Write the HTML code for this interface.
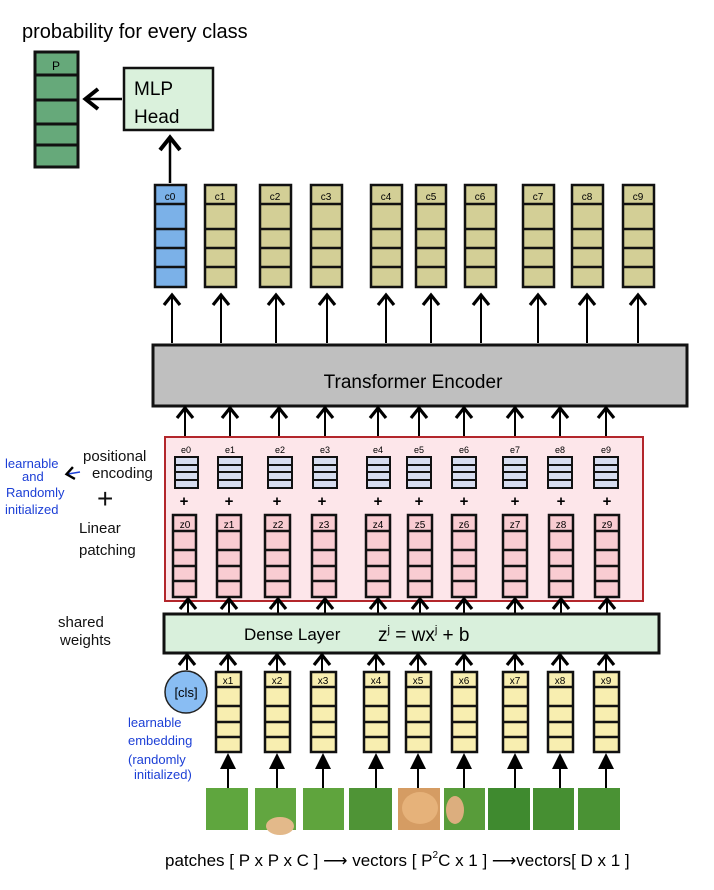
<!DOCTYPE html>
<html><head><meta charset="utf-8"><style>
body{margin:0;background:#fff;}
svg{display:block;font-family:"Liberation Sans",sans-serif;}
</style></head><body>
<svg width="714" height="890" viewBox="0 0 714 890" xmlns="http://www.w3.org/2000/svg">
<defs>
<marker id="op" markerWidth="10" markerHeight="10" refX="5" refY="5" orient="auto"><path d="M1,1 L6,5 L1,9" fill="none" stroke="#000" stroke-width="1.6"/></marker>
<marker id="fl" markerWidth="8" markerHeight="8" refX="6" refY="4" orient="auto"><path d="M0,0 L8,4 L0,8Z" fill="#000"/></marker>
</defs>
<text x="22" y="38" font-size="20">probability for every class</text>
<!-- green prob -->
<g stroke="#111" stroke-width="3" fill="#66a97a">
<rect x="35" y="52" width="43" height="115"/>
<line x1="35" y1="75" x2="78" y2="75"/><line x1="35" y1="100" x2="78" y2="100"/><line x1="35" y1="124" x2="78" y2="124"/><line x1="35" y1="145" x2="78" y2="145"/>
</g>
<text x="56" y="70" font-size="12" text-anchor="middle">P</text>
<rect x="124" y="68" width="89" height="62" fill="#daf1dc" stroke="#111" stroke-width="2.5"/>
<text x="134" y="95" font-size="19">MLP</text><text x="134" y="123" font-size="19">Head</text>
<line x1="122" y1="99" x2="88" y2="99" stroke="#000" stroke-width="2.5" marker-end="url(#op)"/>
<line x1="170" y1="183" x2="170" y2="140" stroke="#000" stroke-width="2.5" marker-end="url(#op)"/>
<!-- output columns -->
<g id="cols" stroke="#111" stroke-width="2.5">
<g fill="#7bb1e8"><rect x="155" y="185" width="31" height="102"/></g>
</g>
<g stroke="#111" stroke-width="2.5" fill="#d3cf96">
<rect x="205" y="185" width="31" height="102"/><rect x="260" y="185" width="31" height="102"/><rect x="311" y="185" width="31" height="102"/><rect x="371" y="185" width="31" height="102"/><rect x="416" y="185" width="30" height="102"/><rect x="465" y="185" width="31" height="102"/><rect x="523" y="185" width="31" height="102"/><rect x="572" y="185" width="31" height="102"/><rect x="623" y="185" width="31" height="102"/>
</g>
<g stroke="#111" stroke-width="2.5">
<path d="M155 204H186M155 229H186M155 248H186M155 267H186 M205 204H236M205 229H236M205 248H236M205 267H236 M260 204H291M260 229H291M260 248H291M260 267H291 M311 204H342M311 229H342M311 248H342M311 267H342 M371 204H402M371 229H402M371 248H402M371 267H402 M416 204H446M416 229H446M416 248H446M416 267H446 M465 204H496M465 229H496M465 248H496M465 267H496 M523 204H554M523 229H554M523 248H554M523 267H554 M572 204H603M572 229H603M572 248H603M572 267H603 M623 204H654M623 229H654M623 248H654M623 267H654"/>
</g>
<g font-size="10" text-anchor="middle">
<text x="170" y="200">c0</text><text x="220" y="200">c1</text><text x="275" y="200">c2</text><text x="326" y="200">c3</text><text x="386" y="200">c4</text><text x="431" y="200">c5</text><text x="480" y="200">c6</text><text x="538" y="200">c7</text><text x="587" y="200">c8</text><text x="638" y="200">c9</text>
</g>
<g stroke="#000" stroke-width="2" marker-end="url(#op)">
<line x1="172" y1="343" x2="172" y2="297"/><line x1="221" y1="343" x2="221" y2="297"/><line x1="276" y1="343" x2="276" y2="297"/><line x1="327" y1="343" x2="327" y2="297"/><line x1="386" y1="343" x2="386" y2="297"/><line x1="431" y1="343" x2="431" y2="297"/><line x1="481" y1="343" x2="481" y2="297"/><line x1="538" y1="343" x2="538" y2="297"/><line x1="587" y1="343" x2="587" y2="297"/><line x1="638" y1="343" x2="638" y2="297"/>
</g>
<rect x="153" y="345" width="534" height="61" fill="#bfbfbf" stroke="#111" stroke-width="3"/>
<text x="413" y="388" font-size="19" text-anchor="middle">Transformer      Encoder</text>
<g stroke="#000" stroke-width="2" marker-end="url(#op)">
<line x1="185" y1="436" x2="185" y2="410"/><line x1="230" y1="436" x2="230" y2="410"/><line x1="279" y1="436" x2="279" y2="410"/><line x1="325" y1="436" x2="325" y2="410"/><line x1="378" y1="436" x2="378" y2="410"/><line x1="419" y1="436" x2="419" y2="410"/><line x1="464" y1="436" x2="464" y2="410"/><line x1="515" y1="436" x2="515" y2="410"/><line x1="560" y1="436" x2="560" y2="410"/><line x1="606" y1="436" x2="606" y2="410"/>
</g>
<rect x="165" y="437" width="478" height="164" fill="#fde6ea" stroke="#b3262b" stroke-width="2"/>
<!-- e columns -->
<g stroke="#111" stroke-width="2" fill="#d6dcef">
<rect x="175" y="457" width="23" height="31"/><rect x="218" y="457" width="24" height="31"/><rect x="268" y="457" width="24" height="31"/><rect x="313" y="457" width="24" height="31"/><rect x="367" y="457" width="23" height="31"/><rect x="407" y="457" width="24" height="31"/><rect x="452" y="457" width="24" height="31"/><rect x="503" y="457" width="24" height="31"/><rect x="548" y="457" width="24" height="31"/><rect x="594" y="457" width="24" height="31"/>
<path d="M175 465H198M175 472H198M175 480H198 M218 465H242M218 472H242M218 480H242 M268 465H292M268 472H292M268 480H292 M313 465H337M313 472H337M313 480H337 M367 465H390M367 472H390M367 480H390 M407 465H431M407 472H431M407 480H431 M452 465H476M452 472H476M452 480H476 M503 465H527M503 472H527M503 480H527 M548 465H572M548 472H572M548 480H572 M594 465H618M594 472H618M594 480H618"/>
</g>
<g font-size="9" text-anchor="middle">
<text x="186" y="453">e0</text><text x="230" y="453">e1</text><text x="280" y="453">e2</text><text x="325" y="453">e3</text><text x="378" y="453">e4</text><text x="419" y="453">e5</text><text x="464" y="453">e6</text><text x="515" y="453">e7</text><text x="560" y="453">e8</text><text x="606" y="453">e9</text>
</g>
<g font-size="15" font-weight="bold" text-anchor="middle">
<text x="184" y="506">+</text><text x="229" y="506">+</text><text x="277" y="506">+</text><text x="322" y="506">+</text><text x="378" y="506">+</text><text x="419" y="506">+</text><text x="464" y="506">+</text><text x="515" y="506">+</text><text x="561" y="506">+</text><text x="607" y="506">+</text>
</g>
<!-- z columns -->
<g stroke="#111" stroke-width="2.5" fill="#f9ccd2">
<rect x="173" y="515" width="23" height="82"/><rect x="217" y="515" width="24" height="82"/><rect x="265" y="515" width="25" height="82"/><rect x="312" y="515" width="24" height="82"/><rect x="366" y="515" width="24" height="82"/><rect x="408" y="515" width="24" height="82"/><rect x="452" y="515" width="24" height="82"/><rect x="503" y="515" width="24" height="82"/><rect x="549" y="515" width="24" height="82"/><rect x="595" y="515" width="24" height="82"/>
<path d="M173 531H196M173 550H196M173 566H196M173 581H196 M217 531H241M217 550H241M217 566H241M217 581H241 M265 531H290M265 550H290M265 566H290M265 581H290 M312 531H336M312 550H336M312 566H336M312 581H336 M366 531H390M366 550H390M366 566H390M366 581H390 M408 531H432M408 550H432M408 566H432M408 581H432 M452 531H476M452 550H476M452 566H476M452 581H476 M503 531H527M503 550H527M503 566H527M503 581H527 M549 531H573M549 550H573M549 566H573M549 581H573 M595 531H619M595 550H619M595 566H619M595 581H619"/>
</g>
<g font-size="10" text-anchor="middle">
<text x="185" y="528">z0</text><text x="229" y="528">z1</text><text x="278" y="528">z2</text><text x="324" y="528">z3</text><text x="378" y="528">z4</text><text x="420" y="528">z5</text><text x="464" y="528">z6</text><text x="515" y="528">z7</text><text x="561" y="528">z8</text><text x="607" y="528">z9</text>
</g>
<g stroke="#000" stroke-width="2" marker-end="url(#op)">
<line x1="188" y1="613" x2="188" y2="601"/><line x1="229" y1="613" x2="229" y2="601"/><line x1="278" y1="613" x2="278" y2="601"/><line x1="325" y1="613" x2="325" y2="601"/><line x1="378" y1="613" x2="378" y2="601"/><line x1="420" y1="613" x2="420" y2="601"/><line x1="464" y1="613" x2="464" y2="601"/><line x1="515" y1="613" x2="515" y2="601"/><line x1="561" y1="613" x2="561" y2="601"/><line x1="607" y1="613" x2="607" y2="601"/>
</g>
<rect x="164" y="614" width="495" height="39" fill="#d9f0dc" stroke="#111" stroke-width="3"/>
<text x="244" y="640" font-size="17">Dense    Layer</text>
<text x="378" y="641" font-size="19">z<tspan font-size="11" dy="-8">j</tspan><tspan dy="8"> = wx</tspan><tspan font-size="11" dy="-8">j</tspan><tspan dy="8"> + b</tspan></text>
<!-- x columns -->
<g stroke="#000" stroke-width="2" marker-end="url(#op)">
<line x1="187" y1="670" x2="187" y2="657"/><line x1="228" y1="671" x2="228" y2="657"/><line x1="277" y1="671" x2="277" y2="657"/><line x1="322" y1="671" x2="322" y2="657"/><line x1="376" y1="671" x2="376" y2="657"/><line x1="418" y1="671" x2="418" y2="657"/><line x1="464" y1="671" x2="464" y2="657"/><line x1="515" y1="671" x2="515" y2="657"/><line x1="560" y1="671" x2="560" y2="657"/><line x1="606" y1="671" x2="606" y2="657"/>
</g>
<circle cx="186" cy="692" r="21" fill="#89bdf3" stroke="#222" stroke-width="1.5"/>
<text x="186" y="697" font-size="13" text-anchor="middle">[cls]</text>
<g stroke="#111" stroke-width="2.5" fill="#f8eeb0">
<rect x="216" y="672" width="25" height="80"/><rect x="265" y="672" width="25" height="80"/><rect x="311" y="672" width="25" height="80"/><rect x="364" y="672" width="25" height="80"/><rect x="406" y="672" width="25" height="80"/><rect x="452" y="672" width="25" height="80"/><rect x="503" y="672" width="25" height="80"/><rect x="548" y="672" width="25" height="80"/><rect x="594" y="672" width="25" height="80"/>
<path d="M216 687H241M216 706H241M216 722H241M216 737H241 M265 687H290M265 706H290M265 722H290M265 737H290 M311 687H336M311 706H336M311 722H336M311 737H336 M364 687H389M364 706H389M364 722H389M364 737H389 M406 687H431M406 706H431M406 722H431M406 737H431 M452 687H477M452 706H477M452 722H477M452 737H477 M503 687H528M503 706H528M503 722H528M503 737H528 M548 687H573M548 706H573M548 722H573M548 737H573 M594 687H619M594 706H619M594 722H619M594 737H619"/>
</g>
<g font-size="10" text-anchor="middle">
<text x="228" y="684">x1</text><text x="277" y="684">x2</text><text x="323" y="684">x3</text><text x="376" y="684">x4</text><text x="418" y="684">x5</text><text x="464" y="684">x6</text><text x="515" y="684">x7</text><text x="560" y="684">x8</text><text x="606" y="684">x9</text>
</g>
<g stroke="#000" stroke-width="2" marker-end="url(#fl)">
<line x1="228" y1="788" x2="228" y2="757"/><line x1="277" y1="788" x2="277" y2="757"/><line x1="323" y1="788" x2="323" y2="757"/><line x1="376" y1="788" x2="376" y2="757"/><line x1="418" y1="788" x2="418" y2="757"/><line x1="464" y1="788" x2="464" y2="757"/><line x1="515" y1="788" x2="515" y2="757"/><line x1="560" y1="788" x2="560" y2="757"/><line x1="606" y1="788" x2="606" y2="757"/>
</g>
<!-- images -->
<g>
<rect x="206" y="788" width="42" height="42" fill="#5fa63e"/>
<rect x="255" y="788" width="41" height="42" fill="#62a640"/>
<ellipse cx="280" cy="826" rx="14" ry="9" fill="#e3b98a"/>
<rect x="303" y="788" width="41" height="42" fill="#5fa43d"/>
<rect x="349" y="788" width="43" height="42" fill="#4f9436"/>
<rect x="398" y="788" width="42" height="42" fill="#d59c63"/>
<ellipse cx="420" cy="808" rx="18" ry="16" fill="#e6b27a"/>
<rect x="444" y="788" width="41" height="42" fill="#589c3a"/>
<ellipse cx="455" cy="810" rx="9" ry="14" fill="#dcae7e"/>
<rect x="488" y="788" width="42" height="42" fill="#3f8a2f"/>
<rect x="533" y="788" width="41" height="42" fill="#468f32"/>
<rect x="578" y="788" width="42" height="42" fill="#4a9234"/>
</g>
<text x="165" y="866" font-size="17">patches [ P x P x  C ] ⟶ vectors [ P<tspan font-size="10" dy="-8">2</tspan><tspan dy="8">C  x 1 ] ⟶vectors[ D x 1 ]</tspan></text>
<!-- left labels -->
<g fill="#1c3fd6" font-size="13">
<text x="5" y="468">learnable</text><text x="22" y="481">and</text><text x="6" y="497">Randomly</text><text x="5" y="514">initialized</text>
<text x="128" y="727">learnable</text><text x="128" y="745">embedding</text><text x="128" y="764">(randomly</text><text x="134" y="779">initialized)</text>
</g>
<line x1="80" y1="472" x2="68" y2="474" stroke="#1c3fd6" stroke-width="1.5" marker-end="url(#op)"/>
<g font-size="15" fill="#111">
<text x="83" y="461">positional</text><text x="92" y="478">encoding</text>
<text x="97" y="508" font-size="28">+</text>
<text x="79" y="533">Linear</text><text x="79" y="555">patching</text>
<text x="58" y="627">shared</text><text x="60" y="645">weights</text>
</g>
</svg>
</body></html>
